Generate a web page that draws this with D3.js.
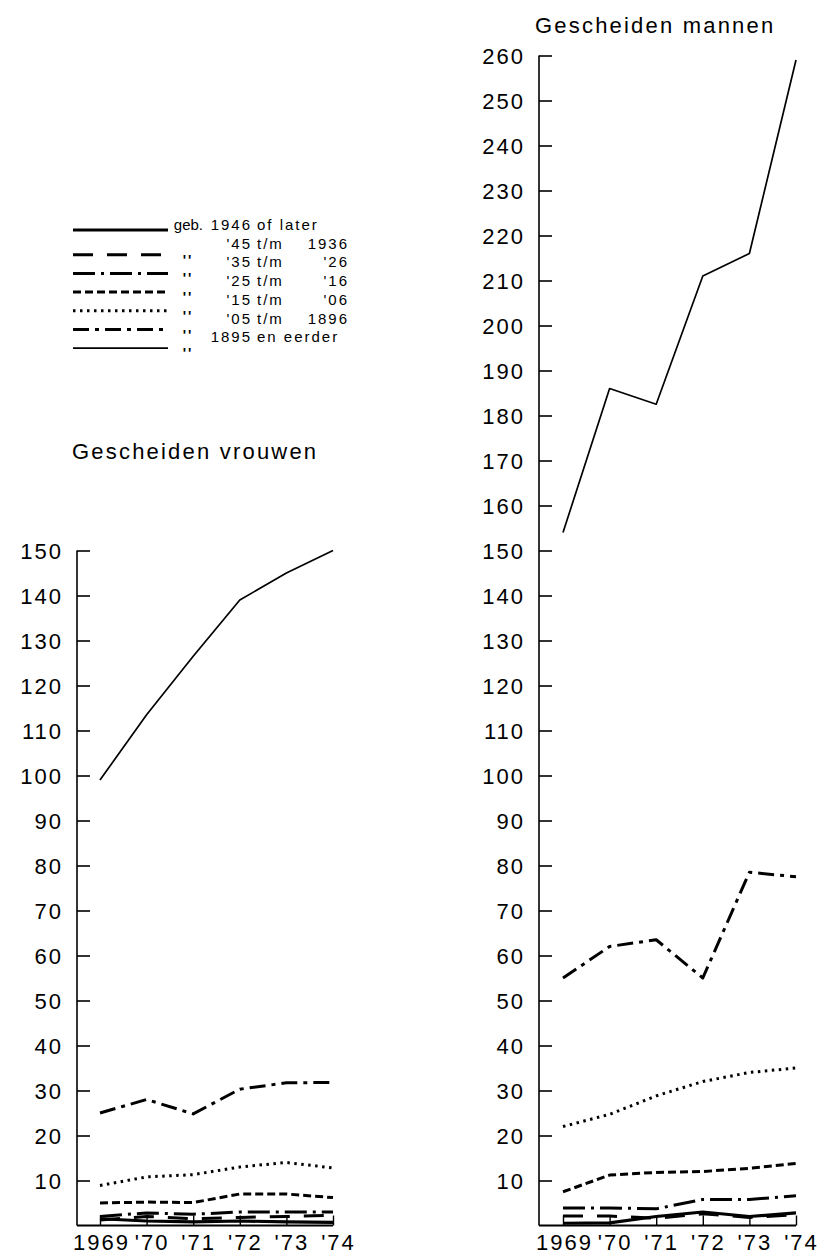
<!DOCTYPE html>
<html>
<head>
<meta charset="utf-8">
<script src="https://cdn.jsdelivr.net/npm/d3@7"></script>
<style>
body { margin: 0; background: #fff; }
text { font-family: "Liberation Sans", Arial, sans-serif; fill: #000; }
</style>
</head>
<body>
<div id="chart"></div>
<script>
// years and tick labels
var years = [1969, 1970, 1971, 1972, 1973, 1974];
var yearLabels = ["1969", "'70", "'71", "'72", "'73", "'74"];

// legend texts (birth cohorts)
var cohortFrom = ["1946", "'45", "'35", "'25", "'15", "'05", "1895"];
var cohortTo = ["", "1936", "'26", "'16", "'06", "1896", ""];

// gescheiden vrouwen, per cohort
var vrouwen1946 = [1.5, 1.0, 0.8, 1.0, 0.8, 0.7];
var vrouwen1936 = [1.2, 2.0, 1.5, 1.8, 2.0, 2.3];
var vrouwen1926 = [2.0, 2.8, 2.5, 3.0, 3.0, 3.0];
var vrouwen1916 = [5.0, 5.2, 5.1, 7.0, 7.0, 6.2];
var vrouwen1906 = [8.9, 10.8, 11.3, 13.0, 14.0, 12.8];
var vrouwen1896 = [25.0, 28.0, 24.8, 30.3, 31.7, 31.8];
var vrouwen1895 = [99, 113.5, 126.5, 139, 145, 150];

// gescheiden mannen, per cohort
var mannen1946 = [0.5, 0.6, 2.0, 3.0, 2.0, 2.8];
var mannen1936 = [2.1, 2.1, 1.6, 2.6, 1.8, 2.4];
var mannen1926 = [3.9, 3.9, 3.7, 5.8, 5.8, 6.6];
var mannen1916 = [7.5, 11.2, 11.8, 12.0, 12.7, 13.8];
var mannen1906 = [22.0, 24.7, 28.8, 32.0, 34.0, 35.0];
var mannen1896 = [55, 62, 63.5, 55, 78.5, 77.5];
var mannen1895 = [154, 186, 182.5, 211, 216, 259];

var vrouwen = [vrouwen1946, vrouwen1936, vrouwen1926, vrouwen1916, vrouwen1906, vrouwen1896, vrouwen1895];
var mannen = [mannen1946, mannen1936, mannen1926, mannen1916, mannen1906, mannen1896, mannen1895];

// line styles, same order as the cohorts
var styles = [
  {w: 3.2, dash: null},
  {w: 3, dash: "20,14"},
  {w: 3, dash: "22,6,3,6"},
  {w: 3, dash: "8,4"},
  {w: 3, dash: "2.5,4.5"},
  {w: 3, dash: "16,6,4,6"},
  {w: 1.7, dash: null}
];

var width = 825, height = 1257;
var svg = d3.select("#chart").append("svg")
  .attr("width", width)
  .attr("height", height);

var baseY = 1225.5, pxPerUnit = 4.5;
var tickFont = 22, tickSpacing = 2;

function panel(axisX, firstX, maxVal, data, title, titleX, titleY) {
  var x = d3.scaleLinear().domain([1969, 1974]).range([firstX, firstX + 233]);
  var y = d3.scaleLinear().domain([0, maxVal]).range([baseY, baseY - maxVal * pxPerUnit]);

  var g = svg.append("g");

  // y axis, ticks pointing inwards
  var yAxis = g.append("g")
    .attr("transform", "translate(" + axisX + ",0)")
    .call(d3.axisLeft(y)
      .tickValues(d3.range(10, maxVal + 1, 10))
      .tickSize(-13)
      .tickSizeOuter(0)
      .tickPadding(14));
  yAxis.select(".domain").attr("stroke", "#000").attr("stroke-width", 1.6);
  yAxis.selectAll(".tick line").attr("stroke", "#000").attr("stroke-width", 1.6);
  yAxis.selectAll(".tick text")
    .attr("fill", "#000")
    .style("font-size", tickFont + "px")
    .style("letter-spacing", tickSpacing + "px")
    .attr("dy", "0.36em");
  // the domain path should run from the top tick down to the baseline
  yAxis.select(".domain").attr("d", "M0," + y(maxVal) + "V" + y(0));

  // x axis
  var xAxis = g.append("g")
    .attr("transform", "translate(0," + baseY + ")")
    .call(d3.axisBottom(x)
      .tickValues(years)
      .tickFormat(function (d, i) { return yearLabels[i]; })
      .tickSize(-10)
      .tickSizeOuter(0)
      .tickPadding(9));
  xAxis.select(".domain").remove();
  xAxis.selectAll(".tick line").attr("stroke", "#000").attr("stroke-width", 1.4);
  xAxis.selectAll(".tick text")
    .attr("fill", "#000")
    .style("font-size", tickFont + "px")
    .style("letter-spacing", tickSpacing + "px")
    .attr("dy", "0.71em")
    .attr("dx", function (d, i) { return i == 0 ? tickSpacing / 2 : 5; });
  g.append("line")
    .attr("x1", axisX).attr("x2", x(1974))
    .attr("y1", baseY).attr("y2", baseY)
    .attr("stroke", "#000").attr("stroke-width", 1.8);

  // the lines
  var line = d3.line()
    .x(function (d, i) { return x(years[i]); })
    .y(function (d) { return y(d); });
  data.forEach(function (values, k) {
    g.append("path")
      .datum(values)
      .attr("fill", "none")
      .attr("stroke", "#000")
      .attr("stroke-width", styles[k].w)
      .attr("stroke-dasharray", styles[k].dash)
      .attr("stroke-linejoin", "round")
      .attr("d", line);
  });

  g.append("text")
    .attr("x", titleX).attr("y", titleY)
    .style("font-size", "22px")
    .style("letter-spacing", "2.2px")
    .text(title);
}

panel(77, 100, 150, vrouwen, "Gescheiden vrouwen", 72, 459);
panel(539, 563, 260, mannen, "Gescheiden mannen", 535, 33);

// legend
var legend = svg.append("g");
var legendFont = 15, legendSpacing = 2;
var rowY = function (i) { return 230 + i * 18.7; };
var lineY = function (i) { return i == 0 ? 230 : rowY(i) + 6; };

cohortFrom.forEach(function (c, i) {
  legend.append("line")
    .attr("x1", 73).attr("x2", 168)
    .attr("y1", lineY(i)).attr("y2", lineY(i))
    .attr("stroke", "#000")
    .attr("stroke-width", styles[i].w)
    .attr("stroke-dasharray", styles[i].dash);

  var t = function (x, anchor, s, sp) {
    legend.append("text")
      .attr("x", x).attr("y", rowY(i))
      .attr("text-anchor", anchor)
      .style("font-size", legendFont + "px")
      .style("letter-spacing", (sp == null ? legendSpacing : sp) + "px")
      .text(s);
  };
  t(250 + legendSpacing, "end", c);
  if (i == 0) {
    t(203, "end", "geb.", 0);
    t(257, "start", "of later");
  } else {
    // ditto marks
    legend.append("text")
      .attr("x", 188).attr("y", lineY(i) + 10)
      .attr("text-anchor", "middle")
      .style("font-size", "14px")
      .style("font-weight", "bold")
      .style("letter-spacing", "2px")
      .text("''");
    if (i == cohortFrom.length - 1) {
      t(257, "start", "en eerder");
    } else {
      t(257, "start", "t/m");
      t(347 + legendSpacing, "end", cohortTo[i]);
    }
  }
});
</script>
</body>
</html>
